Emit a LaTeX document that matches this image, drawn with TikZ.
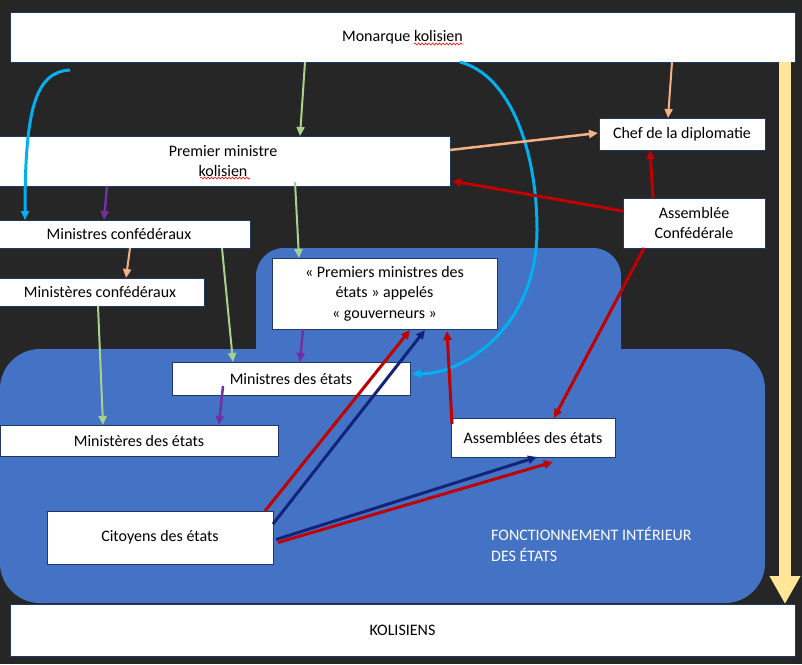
\documentclass[tikz,border=0pt]{standalone}
\usepackage{fontspec}
\setmainfont{Carlito}
\usetikzlibrary{arrows.meta,calc,decorations.pathmorphing}

\definecolor{bgdark}{HTML}{262626}
\definecolor{statebg}{HTML}{4472C4}
\definecolor{edge}{HTML}{203864}
\definecolor{arrowyellow}{HTML}{FFE699}
\definecolor{arrowgreen}{HTML}{A9D18E}
\definecolor{arroworange}{HTML}{F4B183}
\definecolor{arrowred}{HTML}{C00000}
\definecolor{arrownavy}{HTML}{132478}
\definecolor{arrowblue}{HTML}{00B0F0}
\definecolor{arrowpurple}{HTML}{7030A0}

\begin{document}
\begin{tikzpicture}[x=1pt, y=-1pt, >={Triangle[length=9pt,width=8pt]},
    box/.style={draw=edge, line width=0.6pt, fill=white, inner sep=2pt, outer sep=0pt,
        align=center, font=\fontsize{16}{20.5}\selectfont},
    greenlink/.style={->, draw=arrowgreen, line width=2pt},
    orangelink/.style={->, draw=arroworange, line width=2.5pt},
    redlink/.style={->, draw=arrowred, line width=3pt},
    navylink/.style={->, draw=arrownavy, line width=3pt},
    bluelink/.style={->, draw=arrowblue, line width=3pt},
    purplelink/.style={->, draw=arrowpurple, line width=2.5pt},
    wavy/.style={draw=red, line width=0.6pt, decorate,
        decoration={snake, amplitude=1pt, segment length=3.5pt}}]
    \useasboundingbox (0,0) rectangle (802,664);
    \fill[bgdark] (0,0) rectangle (802,664);

    \fill[statebg, rounded corners=28pt] (256,248) rectangle (621,400);
    \fill[statebg, rounded corners=40pt] (0,349) rectangle (765,603);

    \node[box, minimum width=785pt, minimum height=50pt] (mk) at (402.5,37) {Monarque kolisien};
    \node[box, minimum width=454pt, minimum height=50pt] (pm) at (223,161) {Premier ministre\\kolisien};
    \node[box, minimum width=166pt, minimum height=32pt] (cd) at (682,134) {Chef de la diplomatie};
    \node[box, minimum width=262pt, minimum height=28pt] (mc) at (119,234) {Ministres confédéraux};
    \node[box, minimum width=208pt, minimum height=28pt] (mic) at (100,292) {Ministères confédéraux};
    \node[box, minimum width=225pt, minimum height=71pt] (pme) at (384.5,293.5) {« Premiers ministres des\\états » appelés\\« gouverneurs »};
    \node[box, minimum width=238pt, minimum height=33pt] (me) at (291,378.5) {Ministres des états};
    \node[box, minimum width=278pt, minimum height=31pt] (mie) at (139,440.5) {Ministères des états};
    \node[box, minimum width=142pt, minimum height=50pt] (ac) at (694,223) {Assemblée\\Confédérale};
    \node[box, minimum width=164pt, minimum height=39pt] (ae) at (533,437.5) {Assemblées des états};
    \node[box, minimum width=226pt, minimum height=53pt] (ci) at (160,537.5) {Citoyens des états};
    \node[box, minimum width=785pt, minimum height=52pt] (ko) at (402.5,630) {KOLISIENS};
    \node[anchor=base west, align=left, inner sep=0pt, text=white,
        font=\fontsize{16}{21}\selectfont] (fie) at (491,561) {FONCTIONNEMENT INTÉRIEUR\\DES ÉTATS};

    \draw[wavy] ($(mk.center)+(11.5,7)$) -- ($(mk.center)+(60.5,7)$);
    \draw[wavy] ($(pm.center)+(-23,17)$) -- ($(pm.center)+(27,17)$);

    \draw[draw=arrowyellow, line width=12pt, -{Triangle[length=28pt,width=29pt]}]
        ($(mk.south east)+(-10,0)$) -- ($(ko.north east)+(-10,0)$);

    \coordinate (bstart) at ($(mk.south west)+(60,8)$);
    \draw[bluelink] (bstart) .. controls (35,72) and (25,110) .. ($(mc.north west)+(37,0)$);
    \draw[bluelink] ($(mk.south west)+(450,0)$) .. controls (510,75) and (537,150) .. (537,230)
        .. controls (537,330) and (460,375) .. ($(me.east)+(2,-5)$);

    \draw[greenlink] ($(mk.south west)+(295,0)$) -- ($(pm.north west)+(304,0)$);
    \draw[greenlink] ($(pm.south west)+(299,-4)$) -- ($(pme.north west)+(27,0)$);
    \draw[greenlink] ($(mc.south west)+(234,0)$) -- ($(me.north west)+(61,0)$);
    \draw[greenlink] ($(mic.south west)+(102,0)$) -- ($(mie.north west)+(103,0)$);

    \draw[orangelink, line width=2pt] ($(mk.south west)+(662,0)$) -- ($(cd.north west)+(69,0)$);
    \draw[orangelink] ($(pm.north east)+(0,14)$) -- ($(cd.west)+(-1,-1)$);
    \draw[orangelink, line width=2pt] ($(mc.south west)+(142,0)$) -- ($(mic.north west)+(130,0)$);

    \draw[purplelink] ($(pm.south west)+(111,0)$) -- ($(mc.north west)+(116,0)$);
    \draw[purplelink] ($(pme.south west)+(31,0)$) -- ($(me.north west)+(128,0)$);
    \draw[purplelink] ($(me.south west)+(51,-9)$) -- ($(mie.north west)+(219,0)$);

    \draw[redlink] ($(ac.north west)+(0,13)$) -- ($(pm.south east)+(2,-5)$);
    \draw[redlink] ($(ac.north west)+(30,0)$) -- ($(cd.south west)+(51,0)$);
    \draw[redlink] ($(ac.south west)+(21,0)$) -- ($(ae.north west)+(103,0)$);
    \draw[redlink] ($(ae.north west)+(1,6)$) -- ($(pme.south east)+(-50,2)$);
    \draw[redlink] ($(ci.north east)+(-8,0)$) -- ($(pme.south west)+(138,1)$);
    \draw[navylink] ($(ci.north east)+(0,13)$) -- ($(pme.south west)+(153,1)$);
    \draw[navylink] ($(ci.east)+(3,2)$) -- ($(ae.south west)+(86,0)$);
    \draw[redlink] ($(ci.east)+(5,5)$) -- ($(ae.south west)+(102,5)$);
\end{tikzpicture}
\end{document}
